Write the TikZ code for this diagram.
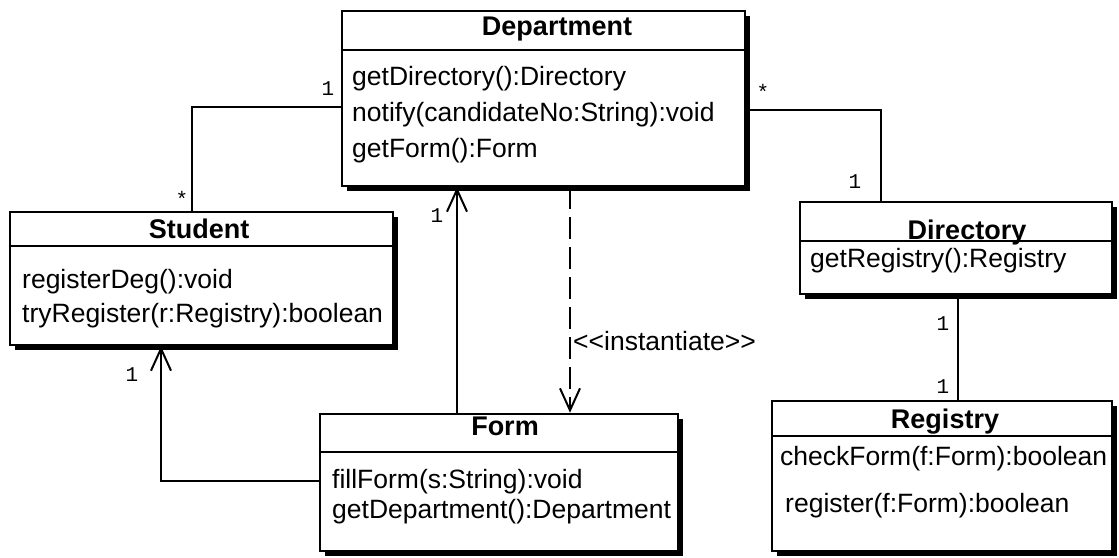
\documentclass[tikz,border=0pt]{standalone}
\usepackage{fontspec}
\setmainfont{Liberation Sans}
\newfontfamily\multfont{Liberation Mono}
\usetikzlibrary{arrows.meta,shadows,calc}
\begin{document}
\begin{tikzpicture}[x=1pt,y=-1pt,
  cls/.style={draw,line width=2.5pt,fill=white,inner sep=0pt,
     drop shadow={shadow xshift=5pt,shadow yshift=-5pt,fill=black,opacity=1}},
  divider/.style={line width=2pt},
  title/.style={font=\fontsize{27}{31}\selectfont\bfseries,inner sep=0pt,anchor=base},
  meth/.style={font=\fontsize{26.5}{30}\selectfont,inner sep=0pt,anchor=base west},
  mult/.style={font=\fontsize{21}{24}\selectfont\multfont,inner sep=0pt,anchor=base},
  assoc/.style={line width=2pt},
  nav/.style={line width=2pt,-{Straight Barb[length=22pt,width=20pt,line width=2pt]}},
  depend/.style={line width=2pt,dash pattern=on 22pt off 8pt,-{Straight Barb[length=22pt,width=20pt,line width=2pt]}}]
\useasboundingbox (0,0) rectangle (1119,557);
\fill[white] (0,0) rectangle (1119,557);

% class boxes
\node[cls,minimum width=403pt,minimum height=175pt] (dept) at (543.5,98.5) {};
\node[cls,minimum width=383pt,minimum height=133pt] (stu) at (201.5,278.5) {};
\node[cls,minimum width=358pt,minimum height=137pt] (form) at (499,482.5) {};
\node[cls,minimum width=312pt,minimum height=92pt] (dir) at (956,248) {};
\node[cls,minimum width=340pt,minimum height=150pt] (reg) at (942,476) {};

% dividers
\draw[divider] ([yshift=-40pt]dept.north west) -- ([yshift=-40pt]dept.north east);
\draw[divider] ([yshift=-35pt]stu.north west) -- ([yshift=-35pt]stu.north east);
\draw[divider] ([yshift=-39pt]form.north west) -- ([yshift=-39pt]form.north east);
\draw[divider] ([yshift=-40pt]dir.north west) -- ([yshift=-40pt]dir.north east);
\draw[divider] ([yshift=-36pt]reg.north west) -- ([yshift=-36pt]reg.north east);

% texts
\node[title] (deptT) at (557,35) {Department};
\node[meth] (deptM1) at (352,85) {getDirectory():Directory};
\node[meth] (deptM2) at (352,121) {notify(candidateNo:String):void};
\node[meth] (deptM3) at (352,157) {getForm():Form};
\node[title] (stuT) at (199,238) {Student};
\node[meth] (stuM1) at (22,288) {registerDeg():void};
\node[meth] (stuM2) at (22,322) {tryRegister(r:Registry):boolean};
\node[title] (formT) at (505,435) {Form};
\node[meth] (formM1) at (332,488) {fillForm(s:String):void};
\node[meth] (formM2) at (332,518) {getDepartment():Department};
\node[title] (dirT) at (967,239) {Directory};
\node[meth] (dirM1) at (810,267) {getRegistry():Registry};
\node[title] (regT) at (945,428) {Registry};
\node[meth] (regM1) at (780,465) {checkForm(f:Form):boolean};
\node[meth] (regM2) at (785,512) {register(f:Form):boolean};

% connectors
\draw[assoc] ([yshift=-8.5pt]dept.west) -| ([xshift=-9.5pt]stu.north);
\draw[assoc] ([yshift=-11.5pt]dept.east) -| ([xshift=-75pt]dir.north);
\draw[nav] ([xshift=-42pt]form.north) -- ([xshift=-42pt]form.north |- dept.south);
\draw[depend] ([xshift=26.5pt]dept.south) -- ([xshift=26.5pt]dept.south |- form.north);
\draw[nav] ([yshift=1.5pt]form.west) -| ([xshift=-40.5pt]stu.south);
\draw[assoc] ([xshift=2pt]dir.south) -- ([xshift=2pt]dir.south |- reg.north);

% labels
\node[meth] (inst) at (573,350) {<\kern0pt<instantiate>\kern0pt>};
\node[mult] (m1) at (328,95) {1};
\node[mult] (m2) at (182,206) {*};
\node[mult] (m3) at (763,99) {*};
\node[mult] (m4) at (855,188) {1};
\node[mult] (m5) at (437,222) {1};
\node[mult] (m6) at (132,381) {1};
\node[mult] (m7) at (943,330) {1};
\node[mult] (m8) at (943,393) {1};
\end{tikzpicture}
\end{document}
